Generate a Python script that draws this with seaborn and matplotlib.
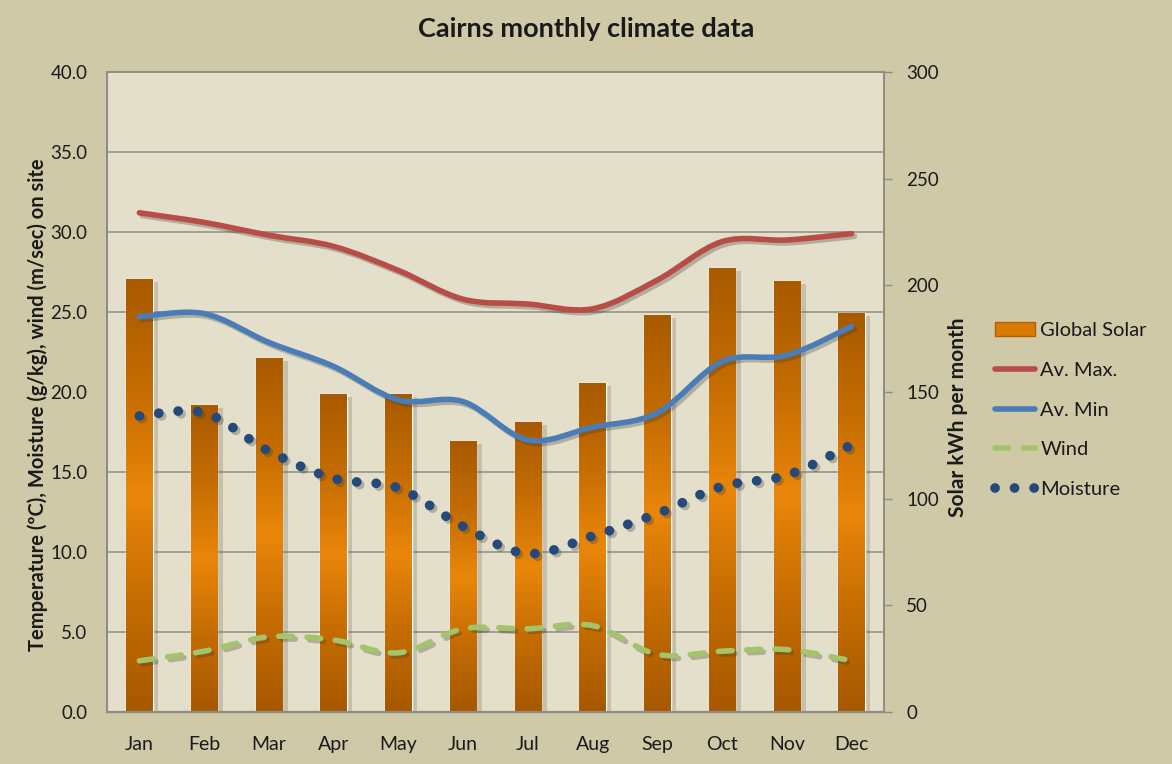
import numpy as np
import pandas as pd
import matplotlib.pyplot as plt
import seaborn as sns
import matplotlib.patheffects as pe
from matplotlib.path import Path
from matplotlib.patches import PathPatch, Patch
from matplotlib.lines import Line2D
from matplotlib.colors import LinearSegmentedColormap
from matplotlib.ticker import MultipleLocator, FormatStrFormatter

# monthly values
months = ['Jan', 'Feb', 'Mar', 'Apr', 'May', 'Jun',
          'Jul', 'Aug', 'Sep', 'Oct', 'Nov', 'Dec']
solar = [203, 144, 166, 149, 149, 127, 136, 154, 186, 208, 202, 187]
av_max = [31.2, 30.6, 29.8, 29.1, 27.6, 25.8, 25.5, 25.2, 27.0, 29.4, 29.5, 29.9]
av_min = [24.7, 24.9, 23.1, 21.6, 19.5, 19.4, 17.0, 17.8, 18.7, 21.9, 22.3, 24.1]
moisture = [18.5, 18.7, 16.3, 14.6, 14.0, 11.6, 9.9, 11.0, 12.4, 14.1, 14.8, 16.7]
wind = [3.2, 3.8, 4.7, 4.5, 3.7, 5.2, 5.2, 5.4, 3.6, 3.8, 3.9, 3.2]

df = pd.DataFrame({'month': months, 'solar': solar})

sns.set_style('white')
plt.rcParams['font.family'] = ['Lato', 'DejaVu Sans']

fig_bg = '#CFC9A8'
plot_bg = '#E3DFCB'
grid_col = '#8F8D80'
txt = '#1A1A1A'
dots = (0, (0.01, 2.0))
dashes = (0, (2.5, 2.6))


def smooth_path(xs, ys):
    # bezier path through the points, like excel's "smoothed line"
    pts = np.column_stack([xs, ys]).astype(float)
    n = len(pts)
    verts = [pts[0]]
    codes = [Path.MOVETO]
    for i in range(n - 1):
        p0 = pts[max(i - 1, 0)]
        p1 = pts[i]
        p2 = pts[i + 1]
        p3 = pts[min(i + 2, n - 1)]
        verts += [p1 + (p2 - p0) / 6, p2 - (p3 - p1) / 6, p2]
        codes += [Path.CURVE4] * 3
    return Path(verts, codes)


fig = plt.figure(figsize=(11.72, 7.64), dpi=100, facecolor=fig_bg)
ax = fig.add_axes([107 / 1172, 1 - 712 / 764, 777 / 1172, 640 / 764])
ax2 = ax.twinx()

# bars on the secondary axis, drawn underneath the lines
sns.barplot(data=df, x='month', y='solar', ax=ax2, width=0.41,
            color='#D97A05', saturation=1)
ax2.patch.set_visible(True)
ax2.set_facecolor(plot_bg)
ax.set_zorder(ax2.get_zorder() + 1)
ax.patch.set_visible(False)

grad = LinearSegmentedColormap.from_list(
    'bar', ['#A65800', '#C46C02', '#EA860A', '#C46C02', '#A85A00'])
gimg = np.linspace(0, 1, 256).reshape(-1, 1)
for bar in ax2.patches:
    x0, w, h = bar.get_x(), bar.get_width(), bar.get_height()
    bar.set_path_effects([pe.SimplePatchShadow(offset=(4, -2), shadow_rgbFace='#6a6450',
                                               alpha=0.25), pe.Normal()])
    im = ax2.imshow(gimg, cmap=grad, extent=[x0, x0 + w, 0, h], aspect='auto',
                    origin='lower', zorder=bar.get_zorder() + 0.1)
    im.set_clip_path(bar)

ax2.set_ylim(0, 300)
ax2.set_xlim(-0.5, 11.5)
ax2.yaxis.set_major_locator(MultipleLocator(50))
ax2.yaxis.set_minor_locator(MultipleLocator(37.5))
ax2.grid(False)
ax2.grid(which='minor', axis='y', color=grid_col, lw=1.1, zorder=0)
ax2.set_axisbelow(True)
ax2.tick_params(axis='y', which='major', length=6, width=1, color=grid_col,
                labelsize=13.5, labelcolor=txt, pad=10)
ax2.tick_params(axis='y', which='minor', length=0)
ax2.set_ylabel('Solar kWh per month', fontsize=15, fontweight='bold', color=txt)
ax2.yaxis.set_label_coords(1.083, 0.46)
ax2.set_xlabel('')

# temperature / moisture / wind lines on the primary axis
xs = np.arange(len(months))
lines = [
    (av_max, dict(edgecolor='#B84C47', lw=4.0, capstyle='round')),
    (av_min, dict(edgecolor='#4A7DB8', lw=4.0, capstyle='round')),
    (wind, dict(edgecolor='#A3C46A', lw=4.0, capstyle='round', linestyle=dashes)),
    (moisture, dict(edgecolor='#24497A', lw=7.0, capstyle='round', linestyle=dots)),
]
for vals, kw in lines:
    patch = PathPatch(smooth_path(xs, vals), facecolor='none', **kw)
    patch.set_path_effects([pe.SimpleLineShadow(offset=(2, -2), shadow_color='#3d3a2c',
                                                alpha=0.3), pe.Normal()])
    ax.add_patch(patch)

ax.set_xlim(-0.5, 11.5)
ax.set_ylim(0, 40)
ax.yaxis.set_major_locator(MultipleLocator(5))
ax.yaxis.set_major_formatter(FormatStrFormatter('%.1f'))
ax.set_xticks(xs, months)
ax.grid(False)
ax.tick_params(axis='x', length=0, labelsize=14, labelcolor=txt, pad=17)
ax.tick_params(axis='y', length=0, labelsize=13.5, labelcolor=txt, pad=14)
ax.set_ylabel('Temperature (ºC), Moisture (g/kg), wind (m/sec) on site',
              fontsize=14.5, fontweight='bold', color=txt)
ax.yaxis.set_label_coords(-0.076, 0.48)
for a in (ax, ax2):
    for side in a.spines:
        a.spines[side].set_color(grid_col)
        a.spines[side].set_linewidth(1.2)
ax.spines['bottom'].set_linewidth(1.6)

fig.suptitle('Cairns monthly climate data', x=0.5, y=0.978, fontsize=19.5,
             fontweight='bold', color=txt)

handles = [
    Patch(facecolor='#D97A05', edgecolor='#B06000'),
    Line2D([], [], color='#B84C47', lw=4.0, solid_capstyle='round'),
    Line2D([], [], color='#4A7DB8', lw=4.0, solid_capstyle='round'),
    Line2D([], [], color='#A3C46A', lw=4.0, linestyle=dashes, dash_capstyle='round'),
    Line2D([], [], color='#24497A', lw=7.0, linestyle=dots, dash_capstyle='round'),
]
labels = ['Global Solar', 'Av. Max.', 'Av. Min', 'Wind', 'Moisture']
fig.legend(handles, labels, loc='center left', bbox_to_anchor=(995 / 1172, 1 - 410 / 764),
           frameon=False, fontsize=14.5, labelspacing=1.12, handlelength=2.0,
           handletextpad=0.25, borderpad=0, borderaxespad=0, labelcolor=txt)

fig.savefig('out.png', dpi=100, facecolor=fig_bg)
